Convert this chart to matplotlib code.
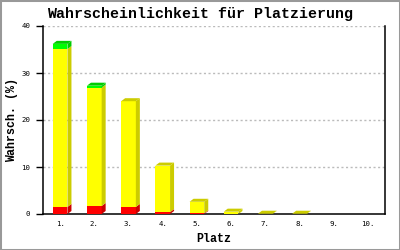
import matplotlib
matplotlib.use("Agg")
import matplotlib.pyplot as plt
from matplotlib.patches import Polygon, Rectangle
import numpy as np

places = ["1.", "2.", "3.", "4.", "5.", "6.", "7.", "8.", "9.", "10."]
red_vals = [1.5, 1.7, 1.5, 0.4, 0.15, 0.0, 0.0, 0.0, 0.0, 0.0]
yellow_vals = [33.6, 25.2, 22.5, 9.9, 2.45, 0.5, 0.06, 0.06, 0.0, 0.0]
green_vals = [1.1, 0.4, 0.0, 0.0, 0.0, 0.0, 0.0, 0.0, 0.0, 0.0]

title = "Wahrscheinlichkeit für Platzierung"
xlabel = "Platz"
ylabel = "Wahrsch. (%)"
yticks = [0, 10, 20, 30, 40]

W, H = 400, 250
fig = plt.figure(figsize=(W / 100, H / 100), dpi=100)
fig.patch.set_facecolor("white")
fig.add_artist(Rectangle((0, 0), 1, 1, transform=fig.transFigure, fill=False,
                         edgecolor="#999999", linewidth=2.2, clip_on=False))

ax_l, ax_r, ax_t, ax_b = 43, 385, 26, 214
ax = fig.add_axes([ax_l / W, 1 - ax_b / H, (ax_r - ax_l) / W, (ax_b - ax_t) / H])
n = len(places)
ax.set_xlim(0, n)
ax.set_ylim(0, 40)

# depth in data units from pixel geometry
px_x = (ax_r - ax_l) / n
px_y = (ax_b - ax_t) / 40.0
dx = 4.0 / px_x
dy = 3.0 / px_y
bw = 0.43

fronts = ["#FF0000", "#FFFF00", "#00FF00"]
darks = ["#CC0000", "#CCCC00", "#00CC00"]
series = [red_vals, yellow_vals, green_vals]

xs = np.arange(n) + 0.5
for i in range(n):
    bottom = 0.0
    top_idx = None
    for s in range(3):
        if series[s][i] > 0:
            top_idx = s
    for s in range(3):
        v = series[s][i]
        if v <= 0:
            continue
        x0 = xs[i] - bw / 2
        x1 = xs[i] + bw / 2
        ax.bar(xs[i], v, bw, bottom=bottom, color=fronts[s], linewidth=0, zorder=3)
        side = [(x1, bottom), (x1 + dx, bottom + dy), (x1 + dx, bottom + v + dy), (x1, bottom + v)]
        ax.add_patch(Polygon(side, closed=True, facecolor=darks[s], linewidth=0, zorder=3))
        if s == top_idx:
            t = bottom + v
            topf = [(x0, t), (x1, t), (x1 + dx, t + dy), (x0 + dx, t + dy)]
            ax.add_patch(Polygon(topf, closed=True, facecolor=darks[s], linewidth=0, zorder=3))
        bottom += v

ax.set_yticks(yticks)
ax.set_yticklabels([str(t) for t in yticks], family="DejaVu Sans Mono", fontsize=5.3)
ax.set_xticks(xs)
ax.set_xticklabels(places, family="DejaVu Sans Mono", fontsize=5.3)
ax.tick_params(axis="x", length=0, pad=5)
ax.tick_params(axis="y", length=5, width=1, pad=4, direction="out")

for y in yticks[1:]:
    ax.axhline(y, color="#BBBBBB", linewidth=1, linestyle=(0, (1.5, 1.8)), zorder=1)

for sp in ["left", "bottom", "right"]:
    ax.spines[sp].set_linewidth(1.1)
    ax.spines[sp].set_color("black")
ax.spines["top"].set_visible(False)

fig.text(0.5, 1 - 14 / H, title, ha="center", va="center", family="Liberation Mono",
         fontweight="bold", fontsize=10.8)
fig.text((ax_l + ax_r) / 2 / W, 1 - 239 / H, xlabel, ha="center", va="center",
         family="Liberation Mono", fontweight="bold", fontsize=8.4)
fig.text(12.5 / W, 1 - 120 / H, ylabel, ha="center", va="center", rotation=90,
         family="Liberation Mono", fontweight="bold", fontsize=8.4)

fig.savefig("out.png", dpi=100)
